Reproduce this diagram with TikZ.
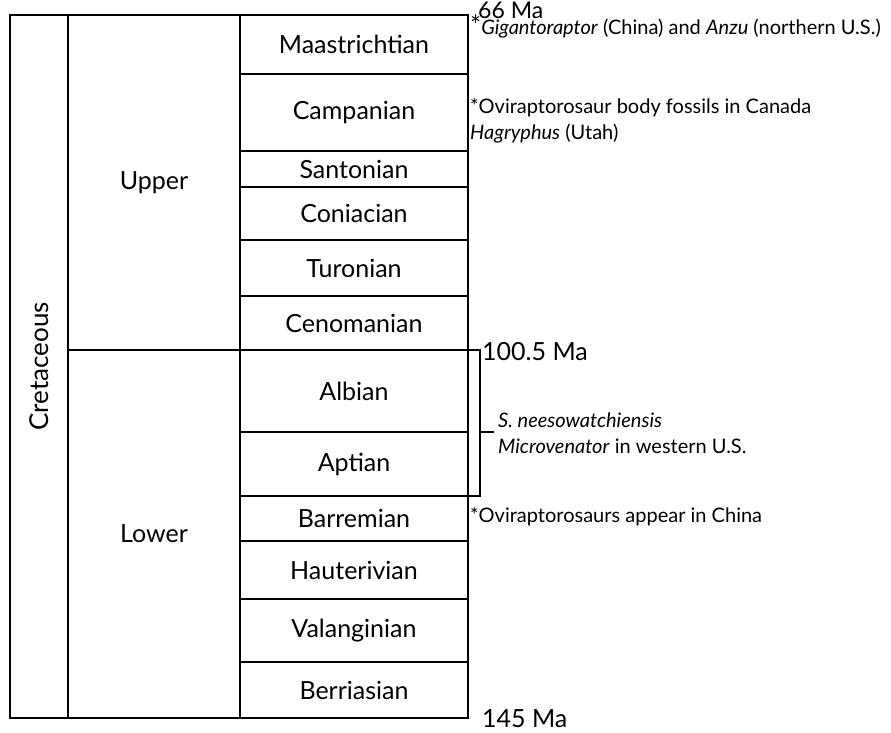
\documentclass[tikz,border=0pt]{standalone}
\usepackage{fontspec}
\setmainfont{Lato}
\usetikzlibrary{positioning}

\tikzset{
  cell/.style={draw, rectangle, inner sep=0pt, outer sep=0pt, line width=1.1pt,
    font=\fontsize{25}{30}\selectfont},
  age/.style={anchor=base west, inner sep=0pt, font=\fontsize{25}{30}\selectfont},
  note/.style={anchor=north west, align=left, inner sep=0pt,
    font=\fontsize{20}{26}\selectfont}
}

\begin{document}
\begin{tikzpicture}[x=1pt,y=-1pt]
\useasboundingbox (0,0) rectangle (891,732);

% period and epochs
\node[cell, minimum width=58, minimum height=703, anchor=north west] (period) at (10,15) {\rotatebox{90}{\fontsize{26}{30}\selectfont\raisebox{-3pt}{Cretaceous}}};
\node[cell, minimum width=172, minimum height=335, anchor=north west] (upper) at (68,15) {Upper};
\node[cell, minimum width=172, minimum height=368, anchor=north west] (lower) at (68,350) {Lower};

% stages
\foreach \name/\top/\bot [count=\i] in {Maastrichtian/15/74, Campanian/74/151,
    Santonian/151/187, Coniacian/187/240, Turonian/240/296, Cenomanian/296/350,
    Albian/350/432, Aptian/432/496, Barremian/496/541, Hauterivian/541/599,
    Valanginian/599/662, Berriasian/662/718}
{
    \node[cell, minimum width=228, minimum height={(\bot-\top)*1pt}, anchor=north west] (s\i) at (240,\top) {\name};
}

% ages
\node[age, font=\fontsize{23}{30}\selectfont] (ma66) at (478,18) {66 Ma};
\node[age] (ma100) at (482,360) {100.5 Ma};
\node[age] (ma145) at (482,727) {145 Ma};

% notes
\node[note, anchor=base west] (gigan) at (470,34) {{\fontsize{26}{30}\selectfont*}\textit{Gigantoraptor} (China) and \textit{Anzu} (northern U.S.)};
\node[note] (campan) at (470,98) {*Oviraptorosaur body fossils in Canada\\\textit{Hagryphus} (Utah)};
\node[note, inner xsep=4pt] (neeso) at (494,413) {\textit{S. neesowatchiensis}\\\textit{Microvenator} in western U.S.};
\node[note, anchor=base west] (barrem) at (470,522) {*Oviraptorosaurs appear in China};

% bracket over Albian and Aptian
\draw[line width=1.1pt] (s7.north east) -| ([xshift=12pt]s8.south east) -- (s8.south east);
\draw[line width=1.1pt] ([xshift=12pt]s8.north east) coordinate (tick) -- (tick -| neeso.west);

\end{tikzpicture}
\end{document}
